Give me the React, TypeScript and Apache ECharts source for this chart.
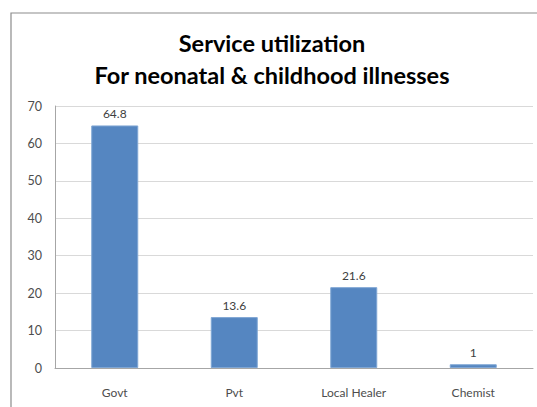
import React, { useEffect, useRef } from "react";
import * as echarts from "echarts";

const categories = ["Govt", "Pvt", "Local Healer", "Chemist"];
const utilization = [64.8, 13.6, 21.6, 1];
const titleLines = ["Service utilization", "For neonatal & childhood illnesses"];

export default function App() {
  const ref = useRef<HTMLDivElement>(null);

  useEffect(() => {
    if (!ref.current) return;
    const chart = echarts.init(ref.current, null, { renderer: "svg" });
    const font = "Lato, 'Open Sans', sans-serif";
    chart.setOption({
      animation: false,
      backgroundColor: "#ffffff",
      graphic: [
        {
          type: "rect",
          shape: { x: 11, y: 13, width: 540, height: 410 },
          style: { fill: "none", stroke: "#8c8c8c", lineWidth: 1.2 },
          silent: true,
        },
      ],
      title: {
        text: titleLines.join("\n"),
        left: 267,
        textAlign: "center",
        top: 22,
        textStyle: {
          fontFamily: font,
          fontWeight: "bold",
          fontSize: 23.5,
          lineHeight: 32,
          color: "#000000",
        },
      },
      grid: { left: 55, right: 4, top: 106, bottom: 39 },
      xAxis: {
        type: "category",
        data: categories,
        axisLine: { lineStyle: { color: "#a6a6a6" } },
        axisTick: { show: false },
        axisLabel: {
          fontFamily: font,
          fontSize: 12,
          color: "#4d4d4d",
          margin: 18,
        },
      },
      yAxis: {
        type: "value",
        min: 0,
        max: 70,
        interval: 10,
        axisLine: { show: true, lineStyle: { color: "#a6a6a6" } },
        axisTick: { show: false },
        splitLine: { lineStyle: { color: "#d9d9d9" } },
        axisLabel: {
          fontFamily: font,
          fontSize: 12.5,
          color: "#4d4d4d",
          margin: 13,
        },
      },
      series: [
        {
          type: "bar",
          data: utilization,
          barWidth: 47,
          itemStyle: {
            color: "#5586c1",
            borderColor: "#7fa6d4",
            borderWidth: 1,
          },
          label: {
            show: true,
            position: "top",
            distance: 6,
            fontFamily: font,
            fontSize: 12,
            color: "#404040",
          },
        },
      ],
    });
    return () => chart.dispose();
  }, []);

  return (
    <div
      ref={ref}
      style={{ position: "absolute", left: 0, top: 0, width: 537, height: 407 }}
    />
  );
}
